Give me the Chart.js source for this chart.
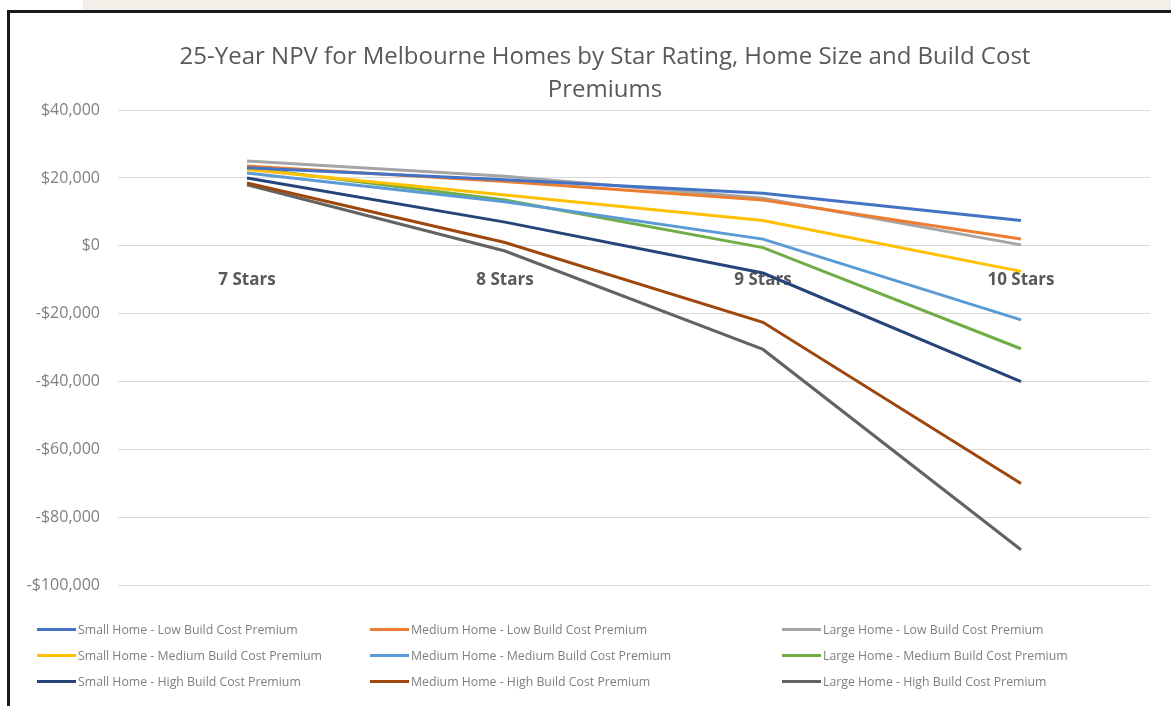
<!DOCTYPE html>
<html>
<head>
<meta charset="utf-8">
<script src="https://cdn.jsdelivr.net/npm/chart.js@4/dist/chart.umd.min.js"></script>
<style>
  html, body { margin: 0; padding: 0; background: #ffffff; width: 1171px; height: 706px; overflow: hidden; font-family: "Open Sans", sans-serif; }
  #strip { position: absolute; left: 83px; top: 0; width: 1088px; height: 10px; background: #f3efe8; }
  #frame { position: absolute; left: 7px; top: 10px; width: 1164px; height: 696px; border-left: 3px solid #1a1a1a; border-top: 3px solid #1a1a1a; box-sizing: border-box; background: #fff; }
  #wrap { position: absolute; left: 10px; top: 13px; width: 1190px; height: 600px; }
  #legend { position: absolute; left: 0; top: 0; width: 1171px; height: 706px; pointer-events: none; }
  .item { position: absolute; height: 18px; display: flex; align-items: center; font-size: 12.3px; color: #7f7f7f; white-space: nowrap; }
  .sw { display: inline-block; width: 39px; height: 3px; margin-right: 2px; }
</style>
</head>
<body>
<div id="strip"></div>
<div id="frame"></div>
<div id="wrap"><canvas id="c"></canvas></div>
<div id="legend"></div>
<script>
const categories = ["7 Stars", "8 Stars", "9 Stars", "10 Stars"];
const yTicks = [40000, 20000, 0, -20000, -40000, -60000, -80000, -100000];

const smallLow    = [23000, 19500, 15500, 7500];
const mediumLow   = [23500, 19000, 13500, 2000];
const largeLow    = [25000, 20500, 14000, 300];
const smallMedium = [22500, 15000, 7500, -7500];
const mediumMedium= [21500, 13000, 2000, -21800];
const largeMedium = [23000, 13500, -500, -30300];
const smallHigh   = [20000, 7000, -8000, -40000];
const mediumHigh  = [18500, 1000, -22500, -70000];
const largeHigh   = [18000, -1500, -30500, -89500];

const seriesNames = [
  "Small Home - Low Build Cost Premium", "Medium Home - Low Build Cost Premium", "Large Home - Low Build Cost Premium",
  "Small Home - Medium Build Cost Premium", "Medium Home - Medium Build Cost Premium", "Large Home - Medium Build Cost Premium",
  "Small Home - High Build Cost Premium", "Medium Home - High Build Cost Premium", "Large Home - High Build Cost Premium"
];
const seriesValues = [smallLow, mediumLow, largeLow, smallMedium, mediumMedium, largeMedium, smallHigh, mediumHigh, largeHigh];
const seriesColors = ["#4472C4", "#ED7D31", "#A5A5A5", "#FFC000", "#5B9BD5", "#70AD47", "#264478", "#9E480E", "#636363"];

const datasets = seriesNames.map((n, i) => ({
  label: n,
  data: seriesValues[i],
  borderColor: seriesColors[i],
  backgroundColor: seriesColors[i],
  borderWidth: 3,
  pointRadius: 0,
  tension: 0,
  fill: false
}));

const fmt = v => (v < 0 ? "-" : "") + "$" + Math.abs(v).toLocaleString("en-US");

new Chart(document.getElementById("c"), {
  type: "line",
  data: { labels: categories, datasets },
  options: {
    responsive: true,
    maintainAspectRatio: false,
    animation: false,
    layout: { padding: { left: 0, right: 0, top: 0, bottom: 7 } },
    plugins: {
      legend: { display: false },
      tooltip: { enabled: false },
      title: {
        display: true,
        text: ["25-Year NPV for Melbourne Homes by Star Rating, Home Size and Build Cost", "Premiums"],
        color: "#595959",
        font: { family: "Open Sans", size: 24, weight: "normal", lineHeight: 1.356 },
        padding: { top: 28, bottom: 4 }
      }
    },
    scales: {
      x: {
        position: { y: 0 },
        offset: true,
        grid: { display: false, drawTicks: false },
        border: { display: false },
        ticks: { color: "#595959", font: { family: "Open Sans", size: 17, weight: "bold" }, padding: 24, maxRotation: 0 }
      },
      y: {
        min: -100000,
        max: 40000,
        afterBuildTicks: s => { s.ticks = yTicks.slice().reverse().map(v => ({ value: v })); },
        afterFit: s => { s.width = 108; },
        grid: { color: "#d9d9d9", lineWidth: 1, drawTicks: false },
        border: { display: false },
        ticks: { color: "#808080", font: { family: "Open Sans", size: 16 }, padding: 18, callback: v => fmt(v) }
      },
      yRight: {
        position: "right",
        min: -100000,
        max: 40000,
        afterFit: s => { s.width = 50; },
        grid: { display: false, drawTicks: false },
        border: { display: false },
        ticks: { display: false }
      }
    }
  }
});

const legendCols = [37, 370, 782];
const legendRows = [629, 655, 681];
const lg = document.getElementById("legend");
seriesNames.forEach((n, i) => {
  const d = document.createElement("div");
  d.className = "item";
  d.style.left = legendCols[i % 3] + "px";
  d.style.top = (legendRows[Math.floor(i / 3)] - 9) + "px";
  const sw = document.createElement("span");
  sw.className = "sw";
  sw.style.background = seriesColors[i];
  d.appendChild(sw);
  d.appendChild(document.createTextNode(n));
  lg.appendChild(d);
});
</script>
</body>
</html>
